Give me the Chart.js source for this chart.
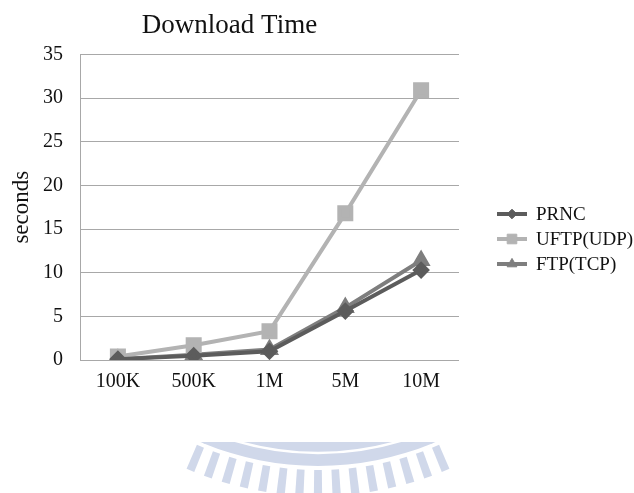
<!DOCTYPE html>
<html>
<head>
<meta charset="utf-8">
<title>Download Time</title>
<script src="https://cdn.jsdelivr.net/npm/chart.js@4.4.0/dist/chart.umd.min.js"></script>
<style>
  html, body { margin: 0; padding: 0; background: #fff; }
  #wrap { width: 634px; height: 493px; }
</style>
</head>
<body>
<div id="wrap"><canvas id="downloadChart" width="634" height="493"></canvas></div>
<script>
// file sizes on the x axis
const sizes = ['100K', '500K', '1M', '5M', '10M'];

// download time in seconds per protocol
const prncTimes = [0.1, 0.5, 1.0, 5.6, 10.3];
const uftpTimes = [0.4, 1.7, 3.3, 16.8, 30.9];
const ftpTimes = [0.1, 0.6, 1.2, 6.0, 11.4];

const seriesNames = ['PRNC', 'UFTP(UDP)', 'FTP(TCP)'];
const yTicks = [0, 5, 10, 15, 20, 25, 30, 35];

const serif = "'Liberation Serif', 'Times New Roman', serif";
const textColor = '#111';
const gridColor = '#a8a8a8';

// faint seal in the page background, bottom centre
const sealPlugin = {
    id: 'seal',
    beforeDraw(chart) {
        const ctx = chart.ctx;
        ctx.save();
        ctx.fillStyle = '#fff';
        ctx.fillRect(0, 0, chart.width, chart.height);

        ctx.beginPath();
        ctx.rect(0, 442, chart.width, chart.height - 442);
        ctx.clip();

        const cx = 318, cy = 166;
        ctx.fillStyle = '#d0d8ea';
        ctx.beginPath();
        ctx.arc(cx, cy, 300, 0, Math.PI * 2);
        ctx.fill();

        ctx.strokeStyle = '#fff';
        ctx.lineWidth = 2.5;
        ctx.beginPath();
        ctx.arc(cx, cy, 287, 0, Math.PI * 2);
        ctx.stroke();

        // rays around the ring
        const step = 3.25 * Math.PI / 180;
        const half = 0.72 * Math.PI / 180;
        for (let k = -7; k <= 7; k++) {
            const a = Math.PI / 2 + k * step;
            ctx.beginPath();
            ctx.moveTo(cx + 304 * Math.cos(a - half), cy + 304 * Math.sin(a - half));
            ctx.lineTo(cx + 330 * Math.cos(a - half), cy + 330 * Math.sin(a - half));
            ctx.lineTo(cx + 330 * Math.cos(a + half), cy + 330 * Math.sin(a + half));
            ctx.lineTo(cx + 304 * Math.cos(a + half), cy + 304 * Math.sin(a + half));
            ctx.closePath();
            ctx.fill();
        }
        ctx.restore();
    }
};

// legend on the right: short line with the series marker, then the name
const sideLegendPlugin = {
    id: 'sideLegend',
    afterDraw(chart) {
        const ctx = chart.ctx;
        ctx.save();
        chart.data.datasets.forEach((ds, i) => {
            const y = 214 + i * 25;
            ctx.strokeStyle = ds.borderColor;
            ctx.lineWidth = 4;
            ctx.beginPath();
            ctx.moveTo(497, y);
            ctx.lineTo(527, y);
            ctx.stroke();
            ctx.fillStyle = ds.backgroundColor;
            ctx.strokeStyle = ds.borderColor;
            ctx.lineWidth = 1;
            Chart.helpers.drawPoint(ctx, {
                pointStyle: ds.pointStyle,
                radius: ds.pointRadius * 0.8,
                borderWidth: 1
            }, 512, y);
            ctx.fillStyle = textColor;
            ctx.font = '19px ' + serif;
            ctx.textAlign = 'left';
            ctx.textBaseline = 'middle';
            ctx.fillText(ds.label, 536, y + 1);
        });
        ctx.restore();
    }
};

const ctx = document.getElementById('downloadChart').getContext('2d');

new Chart(ctx, {
    type: 'line',
    data: {
        labels: sizes,
        datasets: [
            {
                label: seriesNames[0],
                data: prncTimes,
                borderColor: '#5c5c5c',
                backgroundColor: '#5c5c5c',
                borderWidth: 4,
                pointStyle: 'rectRot',
                pointRadius: 6,
                tension: 0
            },
            {
                label: seriesNames[1],
                data: uftpTimes,
                borderColor: '#b3b3b3',
                backgroundColor: '#b3b3b3',
                borderWidth: 4,
                pointStyle: 'rect',
                pointRadius: 8.5,
                tension: 0
            },
            {
                label: seriesNames[2],
                data: ftpTimes,
                borderColor: '#7e7e7e',
                backgroundColor: '#7e7e7e',
                borderWidth: 4,
                pointStyle: 'triangle',
                pointRadius: 7,
                tension: 0
            }
        ]
    },
    options: {
        responsive: false,
        animation: false,
        layout: {
            padding: { left: 0, right: 175, top: 0, bottom: 89 }
        },
        plugins: {
            legend: { display: false },
            tooltip: { enabled: false },
            title: {
                display: true,
                text: 'Download Time',
                color: textColor,
                font: { family: serif, size: 27, weight: 'normal' },
                padding: { top: 10, bottom: 12 }
            }
        },
        scales: {
            x: {
                offset: true,
                grid: { display: false, drawTicks: false },
                border: { display: false },
                ticks: {
                    color: textColor,
                    font: { family: serif, size: 20 },
                    padding: 10,
                    maxRotation: 0
                }
            },
            y: {
                min: 0,
                max: 35,
                afterBuildTicks: (scale) => {
                    scale.ticks = yTicks.map((v) => ({ value: v }));
                },
                afterFit: (scale) => {
                    scale.width = 80;
                },
                grid: { color: gridColor, lineWidth: 1, drawTicks: false },
                border: { display: true, color: gridColor, width: 1 },
                ticks: {
                    color: textColor,
                    font: { family: serif, size: 20 },
                    padding: 17
                },
                title: {
                    display: true,
                    text: 'seconds',
                    color: textColor,
                    font: { family: serif, size: 23 },
                    padding: { top: 8, bottom: 0 }
                }
            }
        }
    },
    plugins: [sealPlugin, sideLegendPlugin]
});
</script>
</body>
</html>
